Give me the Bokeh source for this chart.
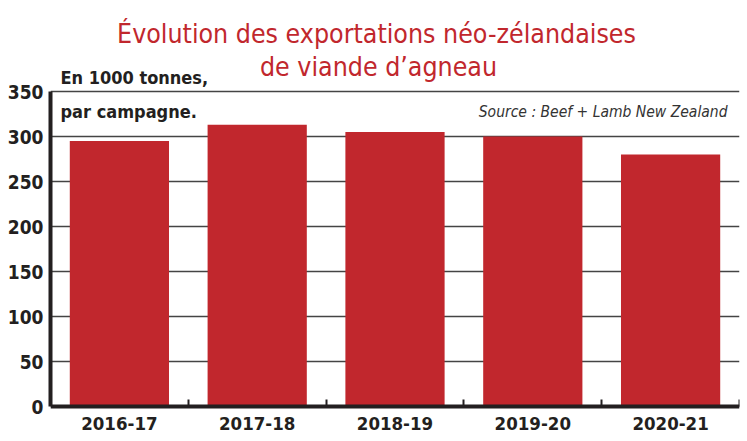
from bokeh.plotting import figure
from bokeh.models import Range1d, FixedTicker, Label, ColumnDataSource
from bokeh.embed import file_html
from bokeh.resources import INLINE

# Data
campagnes = ["2016-17", "2017-18", "2018-19", "2019-20", "2020-21"]
exportations = [295, 313, 305, 300, 280]
y_ticks = [0, 50, 100, 150, 200, 250, 300, 350]

title_l1 = "Évolution des exportations néo-zélandaises"
title_l2 = "de viande d’agneau"
unit_l1 = "En 1000 tonnes,"
unit_l2 = "par campagne."
source_txt = "Source : Beef + Lamb New Zealand"

FONT = "'Liberation Sans Narrow', 'DejaVu Sans Condensed', 'Roboto Condensed', Lato, sans-serif"
RED = "#c1272d"
DARK = "#231f20"

# layout (page pixels; Bokeh's page template has no body margin)
BORDER_LEFT, BORDER_RIGHT = 50, 8
FRAME_W, FRAME_H = 689, 441
ZERO_PAGE_Y = 406          # where the value 0 sits
AXIS_PX = 315              # pixels spanned by 0..350
px_per_unit = AXIS_PX / max(y_ticks)
y_top = ZERO_PAGE_Y / px_per_unit
y_bot = -(FRAME_H - ZERO_PAGE_Y) / px_per_unit

positions = [i + 0.5 for i in range(len(campagnes))]
src = ColumnDataSource(dict(x=positions, top=exportations, cat=campagnes))

p = figure(frame_width=FRAME_W, frame_height=FRAME_H,
           output_backend="svg", toolbar_location=None,
           x_range=Range1d(0, len(campagnes)), y_range=Range1d(y_bot, y_top),
           min_border_left=BORDER_LEFT, min_border_top=0,
           min_border_right=BORDER_RIGHT, min_border_bottom=0)
p.outline_line_color = None
p.background_fill_color = "white"
p.border_fill_color = "white"

p.vbar(x="x", top="top", width=0.72, bottom=0, source=src,
       fill_color=RED, line_color=None)

# axes
p.xgrid.grid_line_color = None
p.ygrid.ticker = FixedTicker(ticks=y_ticks)
p.ygrid.grid_line_color = "#444444"
p.ygrid.grid_line_width = 1.5

yax = p.yaxis[0]
yax.ticker = FixedTicker(ticks=y_ticks)
yax.bounds = (0, max(y_ticks))
yax.axis_line_color = DARK
yax.axis_line_width = 4
yax.major_tick_line_color = None
yax.major_tick_out = 0
yax.major_tick_in = 0
yax.minor_tick_line_color = None
yax.minor_tick_out = 0
yax.major_label_text_font = FONT
yax.major_label_text_font_style = "bold"
yax.major_label_text_font_size = "19px"
yax.major_label_text_color = DARK
yax.major_label_standoff = 7

xax = p.xaxis[0]
xax.fixed_location = 0
xax.ticker = FixedTicker(ticks=positions, minor_ticks=[i + 1 for i in range(len(campagnes))])
xax.major_label_overrides = {pos: c for pos, c in zip(positions, campagnes)}
xax.axis_line_color = DARK
xax.axis_line_width = 4
xax.major_tick_line_color = None
xax.major_tick_out = 0
xax.major_tick_in = 0
xax.minor_tick_line_color = DARK
xax.minor_tick_line_width = 2
xax.minor_tick_in = 7
xax.minor_tick_out = 0
xax.major_label_text_font = FONT
xax.major_label_text_font_style = "bold"
xax.major_label_text_font_size = "18.5px"
xax.major_label_text_color = DARK
xax.major_label_standoff = 10

# frame-relative screen positions
FRAME_LEFT_PAGE = BORDER_LEFT
FRAME_BOTTOM_PAGE = FRAME_H


def sy(page_y):
    return FRAME_BOTTOM_PAGE - page_y


def sx(page_x):
    return page_x - FRAME_LEFT_PAGE


def add_label(text, px, py, align, size, color, style="normal"):
    p.add_layout(Label(x=sx(px), y=sy(py), x_units="screen", y_units="screen",
                       text=text, text_align=align, text_baseline="alphabetic",
                       text_font=FONT, text_font_style=style,
                       text_font_size=size, text_color=color))


add_label(title_l1, 376, 33, "center", "26.5px", RED)
add_label(title_l2, 378, 66, "center", "26.5px", RED)
add_label(unit_l1, 60, 77, "left", "18px", DARK, "bold")
add_label(unit_l2, 60, 111, "left", "18px", DARK, "bold")
add_label(source_txt, 727, 111, "right", "15.5px", "#333333", "italic")

open("out.html", "w").write(file_html(p, INLINE))
